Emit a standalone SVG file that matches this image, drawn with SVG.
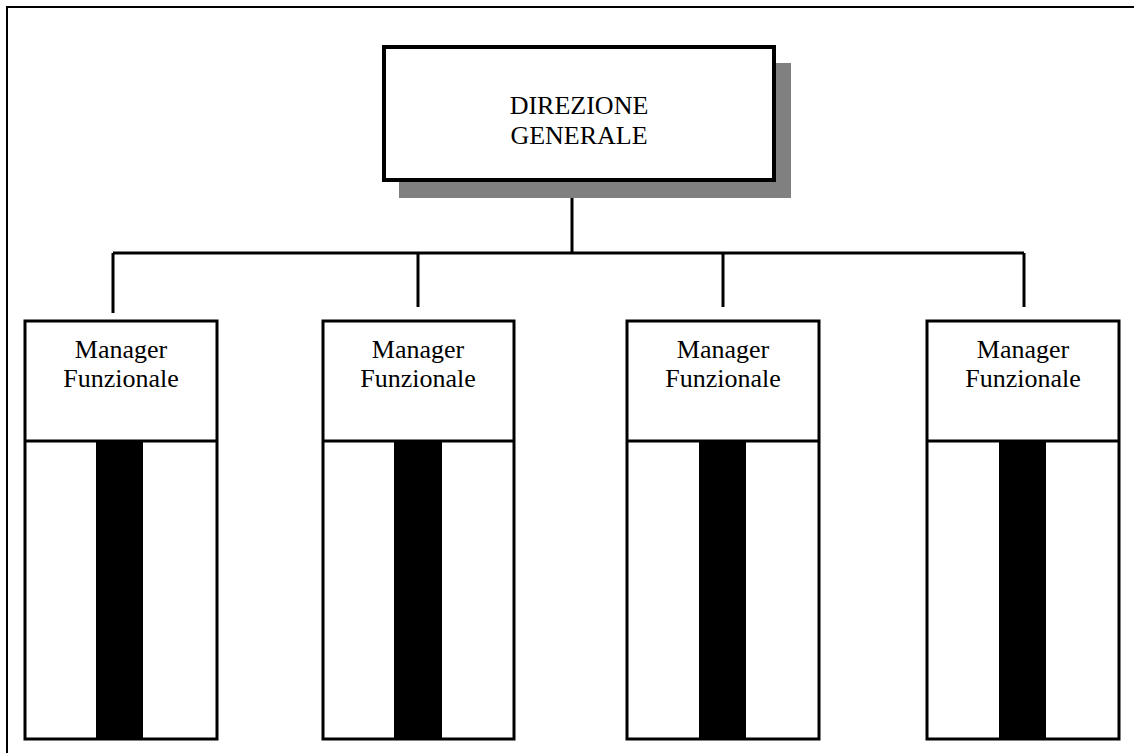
<svg xmlns="http://www.w3.org/2000/svg" width="1134" height="753" viewBox="0 0 1134 753">
  <style>
    .frame { fill: none; stroke: #000; stroke-width: 2; }
    .box { fill: #fff; stroke: #000; stroke-width: 3; }
    .head { fill: #fff; stroke: #000; stroke-width: 4; }
    .shadow { fill: #808080; }
    .bar { fill: #000; }
    .link { fill: none; stroke: #000; stroke-width: 3; }
    .label { font-family: "Liberation Serif", "Times New Roman", serif; font-size: 26px; fill: #000; text-anchor: middle; }
  </style>
  <rect width="1134" height="753" fill="#fff"/>

  <!-- page frame -->
  <path class="frame" d="M7,753 V7 H1134"/>

  <!-- connectors -->
  <g id="connectors">
    <path class="link" d="M572,198 V253"/>
    <path class="link" d="M113,253 H1024"/>
    <path class="link" d="M113,253 V313"/>
    <path class="link" d="M418,253 V307"/>
    <path class="link" d="M723,253 V307"/>
    <path class="link" d="M1024,253 V307"/>
  </g>

  <!-- top node -->
  <g id="direzione-generale">
    <rect class="shadow" x="399" y="63" width="392" height="135"/>
    <rect class="head" x="384" y="47" width="390" height="133"/>
    <text class="label" x="579" y="114">DIREZIONE</text>
    <text class="label" x="579" y="144">GENERALE</text>
  </g>

  <!-- functional managers -->
  <g id="manager-1">
    <rect class="box" x="25" y="321" width="192" height="418"/>
    <line class="box" x1="25" y1="441" x2="217" y2="441"/>
    <rect class="bar" x="96" y="441" width="47" height="298"/>
    <text class="label" x="121" y="358">Manager</text>
    <text class="label" x="121" y="387">Funzionale</text>
  </g>
  <g id="manager-2">
    <rect class="box" x="323" y="321" width="191" height="418"/>
    <line class="box" x1="323" y1="441" x2="514" y2="441"/>
    <rect class="bar" x="394" y="441" width="48" height="298"/>
    <text class="label" x="418" y="358">Manager</text>
    <text class="label" x="418" y="387">Funzionale</text>
  </g>
  <g id="manager-3">
    <rect class="box" x="627" y="321" width="192" height="418"/>
    <line class="box" x1="627" y1="441" x2="819" y2="441"/>
    <rect class="bar" x="699" y="441" width="47" height="298"/>
    <text class="label" x="723" y="358">Manager</text>
    <text class="label" x="723" y="387">Funzionale</text>
  </g>
  <g id="manager-4">
    <rect class="box" x="927" y="321" width="192" height="418"/>
    <line class="box" x1="927" y1="441" x2="1119" y2="441"/>
    <rect class="bar" x="999" y="441" width="47" height="298"/>
    <text class="label" x="1023" y="358">Manager</text>
    <text class="label" x="1023" y="387">Funzionale</text>
  </g>
</svg>
